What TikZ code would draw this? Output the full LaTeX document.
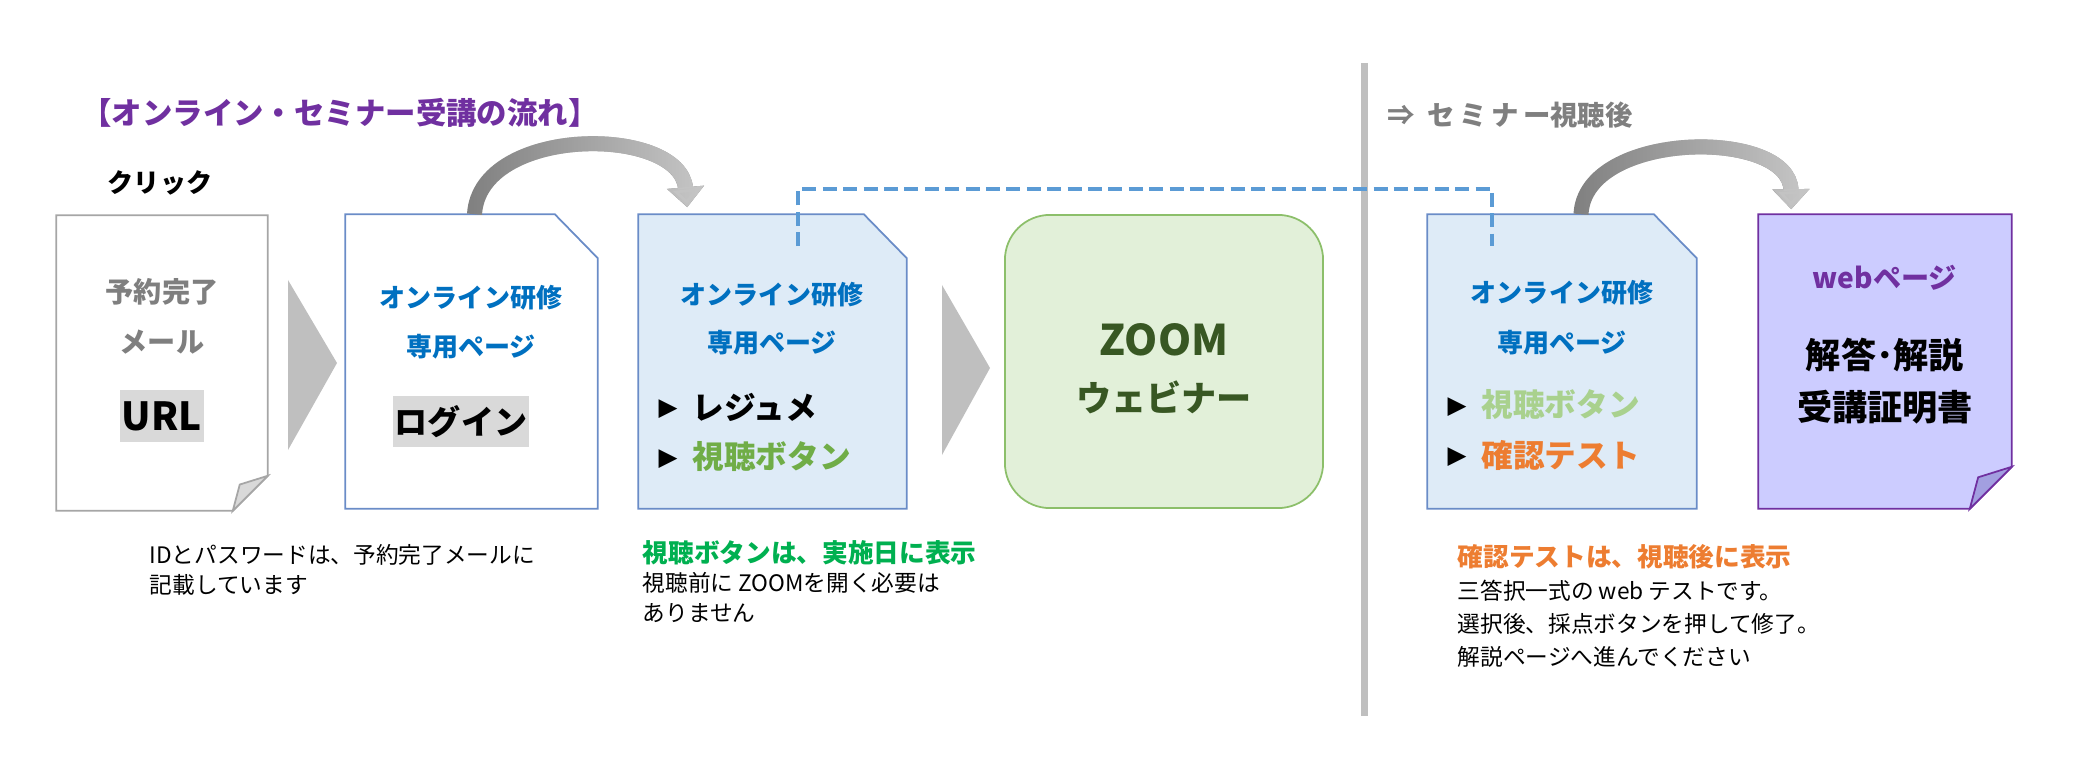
\documentclass[tikz,border=0pt]{standalone}
\usepackage{fontspec}
\setmainfont{Noto Sans CJK JP}
\newfontfamily\sym{DejaVu Sans}
\usetikzlibrary{positioning, arrows.meta, calc, fadings}

\definecolor{titlepurple}{HTML}{7030A0}
\definecolor{textblue}{HTML}{0070C0}
\definecolor{lineblue}{HTML}{6A8CC7}
\definecolor{dashblue}{HTML}{5B9BD5}
\definecolor{pageblue}{HTML}{DEEBF7}
\definecolor{pagegray}{HTML}{A6A6A6}
\definecolor{foldgray}{HTML}{D9D9D9}
\definecolor{textgray}{HTML}{7F7F7F}
\definecolor{chevgray}{HTML}{BFBFBF}
\definecolor{curvedark}{HTML}{808080}
\definecolor{curvelight}{HTML}{C4C4C4}
\definecolor{zoomfill}{HTML}{E2F0D9}
\definecolor{zoomline}{HTML}{8CBF6A}
\definecolor{zoomtext}{HTML}{385723}
\definecolor{btngreen}{HTML}{70AD47}
\definecolor{btnlight}{HTML}{A9D18E}
\definecolor{testorange}{HTML}{ED7D31}
\definecolor{notegreen}{HTML}{00B050}
\definecolor{webfill}{HTML}{CCCCFF}
\definecolor{webfold}{HTML}{A29FE0}

\newcommand{\fsz}[1]{\fontsize{#1}{#1}\selectfont}
\newcommand{\bul}{\raisebox{1pt}{\sym\fsz{7}▶}\hspace{0.15cm}}
\newcommand{\cutpage}[2]{\draw[#2] (#1.north west) -- ($(#1.north east)+(-43,0)$) -- ($(#1.north east)+(0,44)$) -- (#1.south east) -- (#1.south west) -- cycle;}
\newcommand{\foldpage}[4]{\draw[#2] (#1.north west) -- (#1.north east) -- ($(#1.south east)+(0,-#4)$) -- ($(#1.south east)+(-#4,0)$) -- (#1.south west) -- cycle;
\draw[#3] ($(#1.south east)+(-#4,0)$) -- ($(#1.south east)+(0,-#4)$) -- ($(#1.south east)+(-0.8*#4,-0.75*#4)$) -- cycle;}

\tikzset{
  box/.style={inner sep=0pt, minimum height=2.93cm},
  zoombox/.style={box, draw=zoomline, fill=zoomfill, line width=0.5pt, rounded corners=0.45cm, minimum width=3.18cm},
  head/.style={inner sep=0pt, text=textblue, font={\bfseries\fsz{7.4}}},
  big/.style={inner sep=0pt, font={\bfseries\fsz{10}}},
  item/.style={inner sep=0pt, anchor=west, font={\bfseries\fsz{9}}},
  note/.style={inner sep=0pt, anchor=west, font=\fsz{6.45}},
  notehead/.style={note, font={\bfseries\fsz{7.3}}},
  tag/.style={inner sep=0pt, fill=foldgray, font={\bfseries\fsz{10}}},
  curve/.style={draw=#1, line width=0.15cm, -{Triangle[width=0.36cm, length=0.2cm]}},
  dashline/.style={draw=dashblue, line width=1.1pt, dash pattern=on 4pt off 1.8pt},
}

\begin{document}
\begin{tikzpicture}[x=0.01cm, y=-0.01cm]
\useasboundingbox (0,0) rectangle (2081,779);

\node[box, minimum width=2.10cm, minimum height=2.94cm](B1) at (162,363) {};
\node[box, minimum width=2.51cm](B2) at (471.5,361.5) {};
\node[box, minimum width=2.67cm](B3) at (772.5,361.5) {};
\node[zoombox](B4) at (1164,361.5) {};
\node[box, minimum width=2.68cm](B5) at (1562,361.5) {};
\node[box, minimum width=2.52cm](B6) at (1885,361.5) {};

\foldpage{B1}{draw=pagegray, fill=white, line width=0.5pt}{draw=pagegray, fill=foldgray, line width=0.5pt}{35}
\cutpage{B2}{draw=lineblue, fill=white, line width=0.5pt}
\cutpage{B3}{draw=lineblue, fill=pageblue, line width=0.5pt}
\cutpage{B5}{draw=lineblue, fill=pageblue, line width=0.5pt}
\foldpage{B6}{draw=titlepurple, fill=webfill, line width=0.5pt}{draw=titlepurple, fill=webfold, line width=0.5pt}{42}

\fill[chevgray] (288,280) -- (337,363) -- (288,450) -- cycle;
\fill[chevgray] (942,285) -- (990,368) -- (942,455) -- cycle;
\draw[chevgray, line width=0.07cm] (1364,63) -- (1364,716);

\path[curve=curvedark] ($(B2.north)+(3,0)$) .. controls (480,125) and (680,125) .. ($(B3.north west)+(49,-7)$);
\path[curve=curvelight, path fading=west] ($(B2.north)+(3,0)$) .. controls (480,125) and (680,125) .. ($(B3.north west)+(49,-7)$);
\path[curve=curvedark] ($(B5.north)+(19,0)$) .. controls (1585,130) and (1790,128) .. ($(B6.north west)+(33,-5)$);
\path[curve=curvelight, path fading=west] ($(B5.north)+(19,0)$) .. controls (1585,130) and (1790,128) .. ($(B6.north west)+(33,-5)$);

\coordinate (D1) at ($(B3.north west)+(160,32)$);
\coordinate (D2) at ($(B5.north west)+(65,32)$);
\draw[dashline] (D1) -- ++(0,-57) -| (D2);

\node[inner sep=0pt, text=titlepurple, font={\bfseries\fsz{8.65}}](T) at (340,113) {【オンライン・セミナー受講の流れ】};
\node[inner sep=0pt, font={\bfseries\fsz{7.4}}](C) at (160,183) {クリック};
\node[inner sep=0pt, text=textgray, font={\bfseries\fsz{7.8}}](T2) at (1387,115) [anchor=west] {⇒\hspace{0.12cm}セ\,ミ\,ナ\,ー視聴後};

\node[head, text=textgray, font={\bfseries\fsz{8}}] at (162,292) {予約完了};
\node[head, text=textgray, font={\bfseries\fsz{8}}] at (162,342) {メール};
\node[tag, minimum width=0.84cm, minimum height=0.52cm, font={\bfseries\fsz{11}}] at (162,416) {URL};

\node[head] at (471,298) {オンライン研修};
\node[head] at (471,347) {専用ページ};
\node[tag, minimum width=1.36cm, minimum height=0.51cm, font={\bfseries\fsz{9.4}}] at (461,421.5) {ログイン};

\node[head] at (772,295) {オンライン研修};
\node[head] at (772,343) {専用ページ};
\node[item] at (658,407) {\bul レジュメ};
\node[item] at (658,457) {\bul\textcolor{btngreen}{視聴ボタン}};

\node[big, text=zoomtext, font={\bfseries\fsz{12}}] at (1164,340) {ZOOM};
\node[big, text=zoomtext] at (1164,397) {ウェビナー};

\node[head] at (1562,293) {オンライン研修};
\node[head] at (1562,343) {専用ページ};
\node[item] at (1447,405) {\bul\textcolor{btnlight}{視聴ボタン}};
\node[item] at (1447,455) {\bul\textcolor{testorange}{確認テスト}};

\node[head, text=titlepurple, font={\bfseries\fsz{8}}] at (1885,278) {webページ};
\node[big] at (1885,355) {解答･解説};
\node[big] at (1885,407) {受講証明書};

\node[note] at (149,555) {IDとパスワードは、予約完了メールに};
\node[note] at (149,585) {記載しています};

\node[notehead, text=notegreen] at (642,553) {視聴ボタンは、実施日に表示};
\node[note] at (642,583) {視聴前に ZOOMを開く必要は};
\node[note] at (642,613) {ありません};

\node[notehead, text=testorange] at (1457,557) {確認テストは、視聴後に表示};
\node[note] at (1457,591) {三答択一式の web テストです。};
\node[note] at (1457,624) {選択後、採点ボタンを押して修了。};
\node[note] at (1457,657) {解説ページへ進んでください};
\end{tikzpicture}
\end{document}
